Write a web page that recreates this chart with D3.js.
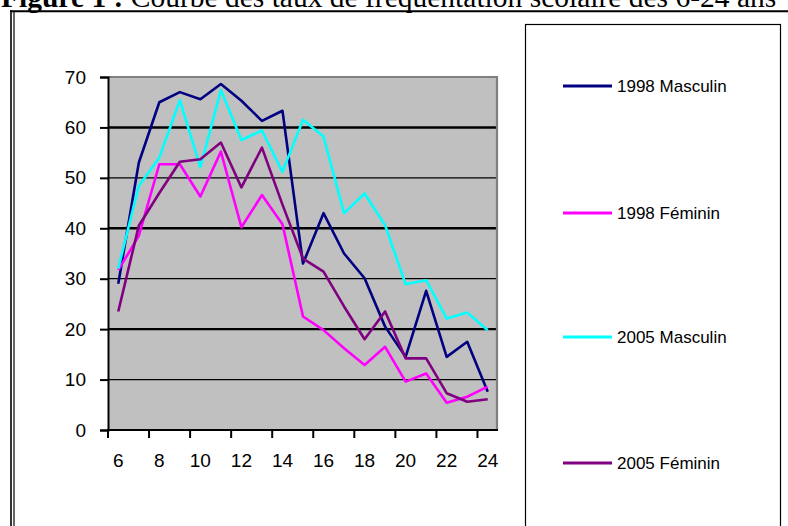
<!DOCTYPE html>
<html>
<head>
<meta charset="utf-8">
<script src="https://cdn.jsdelivr.net/npm/d3@7"></script>
<style>
  body { margin: 0; background: #fff; }
  svg { display: block; }
</style>
</head>
<body>
<script>
// données : taux de fréquentation scolaire par âge
const ages = d3.range(6, 25);
const masculin1998 = [29, 53, 65, 67, 65.6, 68.6, 65.3, 61.3, 63.3, 33, 43, 35, 30.1, 20.5, 14.5, 27.6, 14.5, 17.5, 7.6];
const feminin1998 = [31.7, 38.5, 52.7, 52.7, 46.3, 55.2, 40.2, 46.6, 40.8, 22.5, 19.8, 16.2, 12.9, 16.5, 9.6, 11.2, 5.4, 6.6, 8.6];
const masculin2005 = [32, 48.4, 54, 65.4, 52.1, 67.4, 57.5, 59.4, 51.2, 61.5, 58.2, 43, 46.9, 40.6, 28.9, 29.7, 22.1, 23.3, 19.8];
const feminin2005 = [23.5, 40.5, 47, 53.2, 53.7, 57, 48.1, 56, 44.7, 34, 31.4, 24.5, 18, 23.5, 14.2, 14.2, 7.3, 5.6, 6.1];
const seriesNames = ["1998 Masculin", "1998 Féminin", "2005 Masculin", "2005 Féminin"];
const seriesColors = ["#000080", "#ff00ff", "#00ffff", "#800080"];
const yTicks = [0, 10, 20, 30, 40, 50, 60, 70];
const xTickLabels = [6, 8, 10, 12, 14, 16, 18, 20, 22, 24];

const width = 788;
const height = 526;

const svg = d3.select("body").append("svg")
  .attr("width", width)
  .attr("height", height);

// titre (coupé en haut comme dans l'original)
const title = svg.append("text")
  .attr("x", 1)
  .attr("y", 6.5)
  .attr("font-family", "'Liberation Serif', 'Times New Roman', serif")
  .attr("font-size", 29.5);
title.append("tspan").attr("font-weight", "bold").text("Figure 1 :");
title.append("tspan").text(" Courbe des taux de fréquentation scolaire des 6-24 ans");

// cadre extérieur (double trait)
svg.append("line").attr("x1", 10).attr("x2", width).attr("y1", 11.3).attr("y2", 11.3)
  .attr("stroke", "#000").attr("stroke-width", 2);
svg.append("line").attr("x1", 11).attr("x2", 11).attr("y1", 10.3).attr("y2", height)
  .attr("stroke", "#000").attr("stroke-width", 1.6);
svg.append("line").attr("x1", 14).attr("x2", 14).attr("y1", 12).attr("y2", height)
  .attr("stroke", "#000").attr("stroke-width", 1.2);

// échelles
const x = d3.scaleBand().domain(ages).range([108, 498]).padding(0);
const y = d3.scaleLinear().domain([0, 70]).range([430, 77]);
const cx = (a) => x(a) + x.bandwidth() / 2;

// zone de tracé
svg.append("rect")
  .attr("x", 108).attr("y", y(70))
  .attr("width", 498 - 108).attr("height", y(0) - y(70))
  .attr("fill", "#c0c0c0");

// quadrillage
svg.append("g")
  .selectAll("line")
  .data(yTicks.filter((d) => d > 0 && d < 70))
  .enter()
  .append("line")
  .attr("x1", 108).attr("x2", 497)
  .attr("y1", (d) => y(d)).attr("y2", (d) => y(d))
  .attr("stroke", "#000")
  .attr("stroke-width", (d) => (d % 20 === 0 ? 2.4 : 1.2));

// bordure grise haut / droite
svg.append("path")
  .attr("d", `M108,${y(70)}H497V${y(0)}`)
  .attr("fill", "none")
  .attr("stroke", "#808080")
  .attr("stroke-width", 2.2);

// courbes
const allSeries = [masculin1998, feminin1998, masculin2005, feminin2005];
const line = d3.line()
  .x((d, i) => cx(ages[i]))
  .y((d) => y(d));

svg.append("g")
  .selectAll("path")
  .data(allSeries)
  .enter()
  .append("path")
  .attr("d", line)
  .attr("fill", "none")
  .attr("stroke", (d, i) => seriesColors[i])
  .attr("stroke-width", 2.6)
  .attr("stroke-linejoin", "round");

// axe Y
const yAxis = svg.append("g")
  .attr("transform", "translate(108,0)")
  .call(d3.axisLeft(y).tickValues(yTicks).tickSize(8).tickPadding(14));
yAxis.select(".domain").attr("stroke", "#000").attr("stroke-width", 2);
yAxis.selectAll(".tick line").attr("stroke", "#000").attr("stroke-width", 2);
yAxis.selectAll("text")
  .attr("font-family", "Arial, 'Liberation Sans', sans-serif")
  .attr("font-size", 19)
  .attr("fill", "#000");

// axe X (graduations entre les catégories)
const xAxis = svg.append("g");
xAxis.append("line")
  .attr("x1", 107).attr("x2", 498)
  .attr("y1", y(0)).attr("y2", y(0))
  .attr("stroke", "#000").attr("stroke-width", 2);
xAxis.selectAll("line.tick")
  .data(xTickLabels)
  .enter()
  .append("line")
  .attr("class", "tick")
  .attr("x1", (d) => x(d)).attr("x2", (d) => x(d))
  .attr("y1", y(0)).attr("y2", y(0) + 8)
  .attr("stroke", "#000").attr("stroke-width", 2);
xAxis.selectAll("text")
  .data(xTickLabels)
  .enter()
  .append("text")
  .attr("x", (d) => cx(d))
  .attr("y", 467)
  .attr("text-anchor", "middle")
  .attr("font-family", "Arial, 'Liberation Sans', sans-serif")
  .attr("font-size", 19)
  .text((d) => d);

// légende
svg.append("rect")
  .attr("x", 525.5).attr("y", 24.5)
  .attr("width", 255).attr("height", 520)
  .attr("fill", "#fff")
  .attr("stroke", "#000")
  .attr("stroke-width", 1.2);

const legendY = [86, 213, 337, 463];
const legend = svg.append("g")
  .selectAll("g")
  .data(seriesNames)
  .enter()
  .append("g")
  .attr("transform", (d, i) => `translate(563,${legendY[i]})`);
legend.append("line")
  .attr("x1", 0).attr("x2", 49)
  .attr("stroke", (d, i) => seriesColors[i])
  .attr("stroke-width", 2.8);
legend.append("text")
  .attr("x", 54)
  .attr("dy", "0.35em")
  .attr("font-family", "Arial, 'Liberation Sans', sans-serif")
  .attr("font-size", 17)
  .text((d) => d);
</script>
</body>
</html>
